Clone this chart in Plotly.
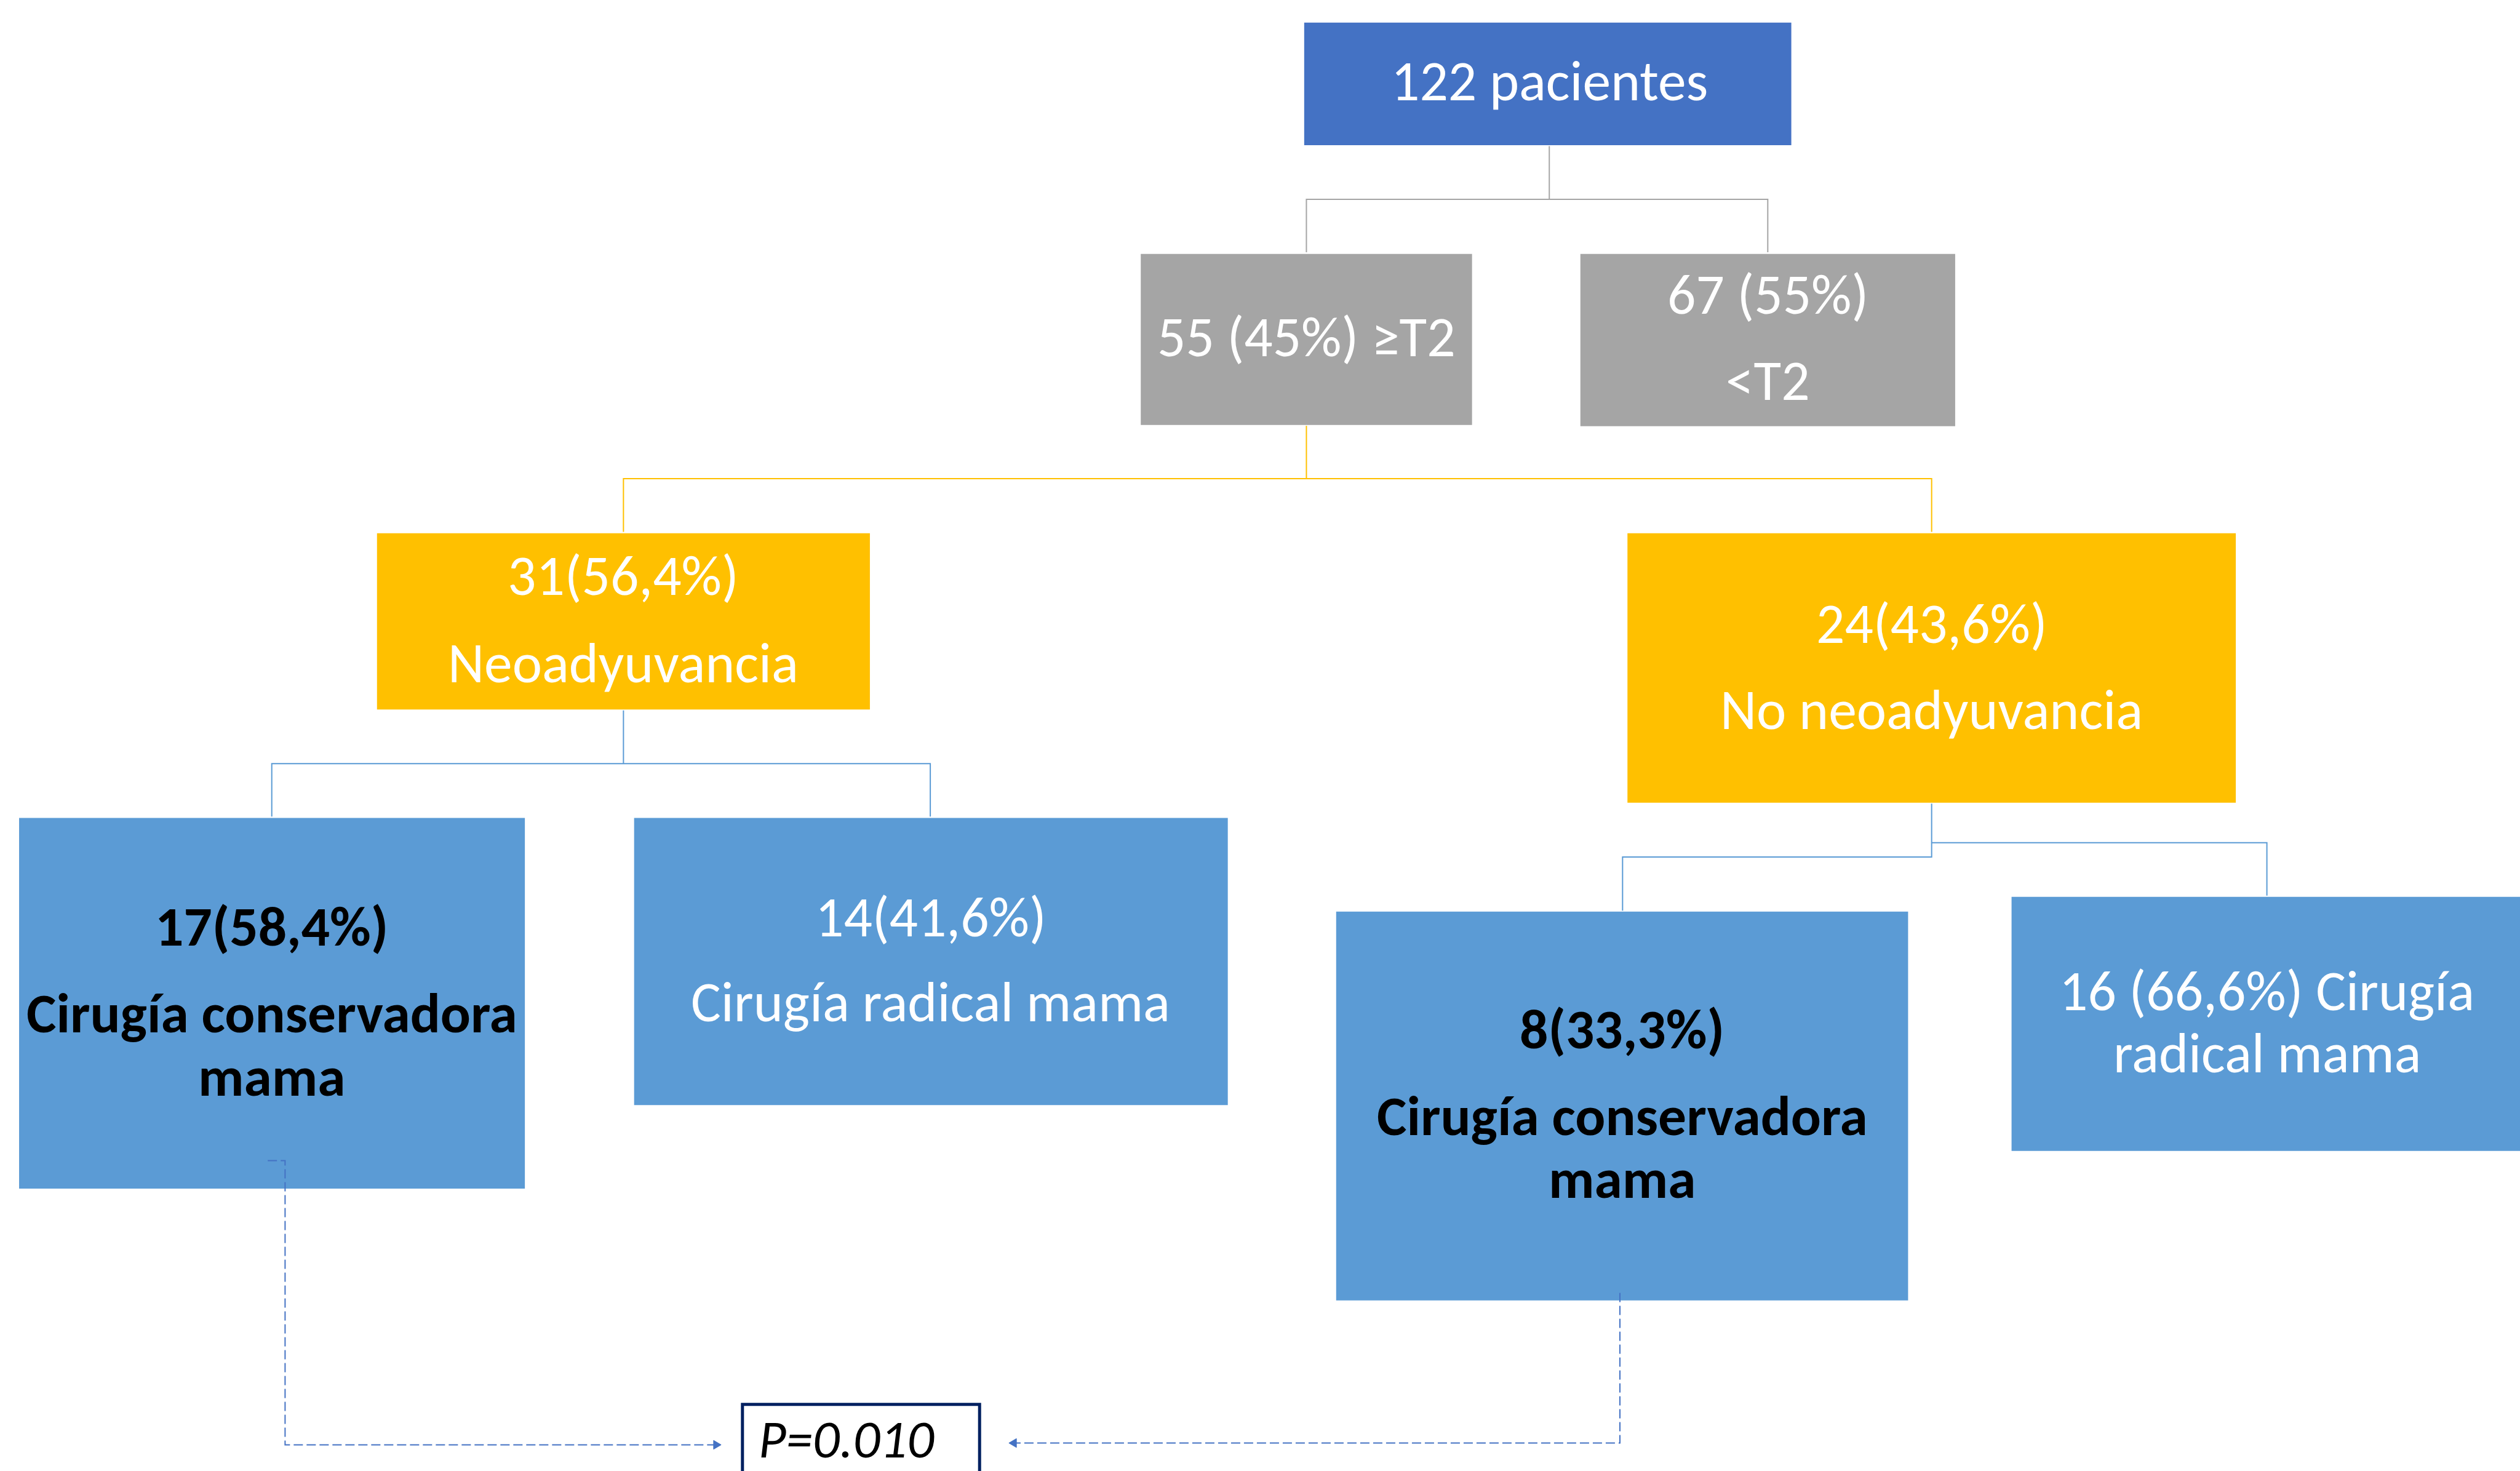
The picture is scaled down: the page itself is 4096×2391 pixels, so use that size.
import plotly.graph_objects as go

# Reference canvas (pixels of the original figure); drawn at 0.721 scale
REF_W, REF_H = 5675, 3313
SCALE = 0.721
FONT = "Carlito, Calibri, 'Open Sans', sans-serif"
FONT_PX = 127  # font size in reference pixels
P_FONT_PX = 120

# ---------------- boxes ----------------
box_names = ["total", "ge_t2", "lt_t2", "neo", "no_neo",
             "cons_neo", "rad_neo", "cons_noneo", "rad_noneo"]
box_x0 = [2937, 2569, 3559, 849, 3665, 43, 1428, 3009, 4530]
box_y0 = [51, 572, 572, 1201, 1201, 1842, 1842, 2053, 2020]
box_x1 = [4034, 3315, 4403, 1959, 5035, 1182, 2765, 4297, 5720]
box_y1 = [327, 957, 960, 1598, 1808, 2677, 2489, 2929, 2592]
box_colors = ["#4472C4", "#A5A5A5", "#A5A5A5", "#FFC000", "#FFC000",
              "#5B9BD5", "#5B9BD5", "#5B9BD5", "#5B9BD5"]

# ---------------- text lines ----------------
line_texts = ["122 pacientes",
              "55 (45%) ≥T2",
              "67 (55%)", "&lt;T2",
              "31(56,4%)", "Neoadyuvancia",
              "24(43,6%)", "No neoadyuvancia",
              "<b>17(58,4%)</b>", "<b>Cirugía conservadora</b>", "<b>mama</b>",
              "14(41,6%)", "Cirugía radical mama",
              "<b>8(33,3%)</b>", "<b>Cirugía conservadora</b>", "<b>mama</b>",
              "16 (66,6%) Cirugía", "radical mama"]
line_x = [3489,
          2942,
          3981, 3981,
          1404, 1404,
          4350, 4350,
          612, 612, 612,
          2096, 2096,
          3653, 3653, 3653,
          5105, 5105]
line_baseline = [224,
                 800,
                 704, 899,
                 1337, 1534,
                 1445, 1639,
                 2127, 2323, 2465,
                 2106, 2298,
                 2359, 2554, 2696,
                 2273, 2413]
line_colors = ["white"] * 8 + ["black"] * 3 + ["white"] * 2 + ["black"] * 3 + ["white"] * 2

p_text = "<i>P=0.010</i>"
p_x, p_baseline = 1906, 3280

# ---------------- solid connectors (polylines) ----------------
conn_paths = [
    [(3489, 329), (3489, 449)],
    [(2942, 568), (2942, 449), (3981, 449), (3981, 568)],
    [(2942, 959), (2942, 1078)],
    [(1404, 1198), (1404, 1078), (4350, 1078), (4350, 1198)],
    [(1404, 1600), (1404, 1720)],
    [(612, 1839), (612, 1720), (2095, 1720), (2095, 1839)],
    [(4350, 1810), (4350, 1930), (3654, 1930), (3654, 2051)],
    [(4350, 1898), (5105, 1898), (5105, 2017)],
]
conn_colors = ["#A5A5A5", "#A5A5A5", "#FFC000", "#FFC000",
               "#5B9BD5", "#5B9BD5", "#5B9BD5", "#5B9BD5"]

# ---------------- dashed connectors to the p-value box ----------------
dash_paths = [
    [(603, 2614), (642, 2614), (642, 3254), (1609, 3254)],
    [(3648, 2912), (3648, 3250), (2287, 3250)],
]
arrow_tips = [(1624, 3254, 1), (2272, 3250, -1)]  # x, y, direction
DASH_COLOR = "#4472C4"

# p-value box
pbox = (1672, 3163, 2206, 3340)
PBOX_COLOR = "#002060"

fig = go.Figure()
shapes = []

for x0, y0, x1, y1, c in zip(box_x0, box_y0, box_x1, box_y1, box_colors):
    shapes.append(dict(type="rect", xref="x", yref="y", x0=x0, y0=y0, x1=x1, y1=y1,
                       fillcolor=c, line=dict(width=0), layer="below"))


def path_str(pts):
    return "M " + " L ".join(f"{x},{y}" for x, y in pts)


for pts, c in zip(conn_paths, conn_colors):
    shapes.append(dict(type="path", xref="x", yref="y", path=path_str(pts),
                       line=dict(color=c, width=2)))

for pts in dash_paths:
    shapes.append(dict(type="path", xref="x", yref="y", path=path_str(pts),
                       line=dict(color=DASH_COLOR, width=2, dash="15px,6px")))

for tx, ty, d in arrow_tips:
    tri = [(tx, ty), (tx - d * 17, ty - 10), (tx - d * 17, ty + 10)]
    shapes.append(dict(type="path", xref="x", yref="y", path=path_str(tri) + " Z",
                       fillcolor=DASH_COLOR, line=dict(color=DASH_COLOR, width=1)))

shapes.append(dict(type="rect", xref="x", yref="y", x0=pbox[0], y0=pbox[1], x1=pbox[2], y1=pbox[3],
                   fillcolor="white", line=dict(color=PBOX_COLOR, width=5)))

CENTER_OFFSET = 0.32  # baseline sits this many em below the text's middle

for t, x, b, c in zip(line_texts, line_x, line_baseline, line_colors):
    fig.add_annotation(x=x, y=b - CENTER_OFFSET * FONT_PX, xref="x", yref="y", text=t,
                       showarrow=False, xanchor="center", yanchor="middle",
                       font=dict(family=FONT, size=FONT_PX * SCALE, color=c))

fig.add_annotation(x=p_x, y=p_baseline - CENTER_OFFSET * P_FONT_PX, xref="x", yref="y", text=p_text,
                   showarrow=False, xanchor="center", yanchor="middle",
                   font=dict(family=FONT, size=P_FONT_PX * SCALE, color="black"))

fig.update_layout(
    width=4096, height=2391,
    margin=dict(l=0, r=0, t=0, b=0, pad=0),
    paper_bgcolor="white", plot_bgcolor="white",
    xaxis=dict(range=[0, REF_W], visible=False, fixedrange=True),
    yaxis=dict(range=[REF_H, 0], visible=False, fixedrange=True),
    shapes=shapes,
    showlegend=False,
)
fig.write_html("out.html")
